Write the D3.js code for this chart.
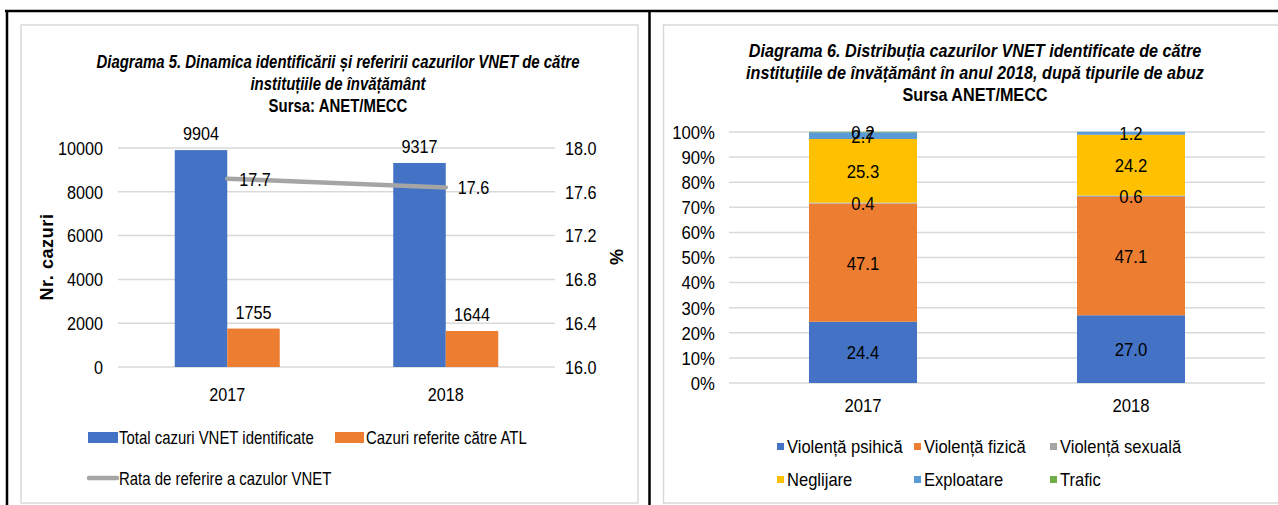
<!DOCTYPE html>
<html><head><meta charset="utf-8">
<script src="https://cdn.jsdelivr.net/npm/d3@7"></script>
<style>
body{margin:0;background:#fff;}
svg{display:block;}
text{font-family:"Liberation Sans Narrow","Arial Narrow","Liberation Sans",Arial,sans-serif;fill:#000;}
</style></head><body>
<svg id="c" width="1278" height="505"></svg>
<script>
// ---- Chart 5 data ----
const years = ["2017", "2018"];
const totalCases = [9904, 9317];
const referredCases = [1755, 1644];
const referralRate = [17.72, 17.64];
const leftTicks = [0, 2000, 4000, 6000, 8000, 10000];
const rightTicks = [16.0, 16.4, 16.8, 17.2, 17.6, 18.0];
const title5 = ["Diagrama 5. Dinamica identificării și referirii cazurilor VNET de către", "instituțiile de învățământ"];
const source5 = "Sursa: ANET/MECC";

// ---- Chart 6 data ----
const abuseTypes = ["Violență psihică", "Violență fizică", "Violență sexuală", "Neglijare", "Exploatare", "Trafic"];
const share2017 = [24.4, 47.1, 0.4, 25.3, 2.7, 0.2];
const share2018 = [27.0, 47.1, 0.6, 24.2, 1.2, 0];
const pctTicks = [0, 10, 20, 30, 40, 50, 60, 70, 80, 90, 100];
const title6 = ["Diagrama 6. Distribuția cazurilor VNET identificate de către", "instituțiile de învățământ în anul 2018, după tipurile de abuz"];
const source6 = "Sursa ANET/MECC";

const colors6 = ["#4472C4", "#ED7D31", "#A5A5A5", "#FFC000", "#5B9BD5", "#70AD47"];

const svg = d3.select("#c");

// horizontal condensing of text (imitates a narrow font)
function squeeze(sel, k) {
  sel.each(function(){
    const t = d3.select(this);
    let x = parseFloat(t.attr("x"));
    if (isNaN(x)) { const ts = t.select("tspan"); x = ts.empty() ? 0 : (parseFloat(ts.attr("x")) || 0); }
    t.attr("transform", `translate(${x*(1-k)},0) scale(${k},1)`);
  });
}

// frames
svg.append("rect").attr("x",21).attr("y",25).attr("width",617).attr("height",478).attr("fill","none").attr("stroke","#D9D9D9").attr("stroke-width",1.5);
svg.append("rect").attr("x",663.5).attr("y",25).attr("width",640).attr("height",478).attr("fill","none").attr("stroke","#D9D9D9").attr("stroke-width",1.5);
// black borders
svg.append("line").attr("x1",5).attr("x2",1278).attr("y1",11).attr("y2",11).attr("stroke","#000").attr("stroke-width",2.5);
svg.append("line").attr("x1",7).attr("x2",7).attr("y1",10).attr("y2",505).attr("stroke","#000").attr("stroke-width",2.5);
svg.append("line").attr("x1",649.5).attr("x2",649.5).attr("y1",10).attr("y2",505).attr("stroke","#000").attr("stroke-width",2.5);

// ================= Chart 5 =================
{
  const g = svg.append("g");
  const x = d3.scaleBand().domain(years).range([118, 555]);
  const y = d3.scaleLinear().domain([0, 10000]).range([367, 148]);
  const y2 = d3.scaleLinear().domain([16, 18]).range([367, 148]);

  // titles
  const tt = g.append("text").attr("text-anchor","middle").attr("font-size",18).attr("font-weight","bold").attr("font-style","italic");
  title5.forEach((t,i)=>tt.append("tspan").attr("x",338).attr("y",68+i*22).text(t));
  squeeze(tt, 0.83);
  const st = g.append("text").attr("x",338).attr("y",112).attr("text-anchor","middle").attr("font-size",18).attr("font-weight","bold").text(source5);
  squeeze(st, 0.83);

  // grid
  g.selectAll(".grid").data(leftTicks).join("line")
    .attr("x1",118).attr("x2",555).attr("y1",d=>y(d)).attr("y2",d=>y(d))
    .attr("stroke","#D9D9D9").attr("stroke-width",1.5);

  // left axis
  const ax = d3.axisLeft(y).tickValues(leftTicks).tickSize(0).tickPadding(0).tickFormat(d3.format("d"));
  const ag = g.append("g").attr("transform","translate(103,0)").call(ax);
  ag.select(".domain").remove();
  ag.selectAll("text").attr("font-size",18).attr("dy","0.35em").attr("font-family",null);
  squeeze(ag.selectAll("text"), 0.9);

  const ax2 = d3.axisRight(y2).tickValues(rightTicks).tickSize(0).tickPadding(0).tickFormat(d3.format(".1f"));
  const ag2 = g.append("g").attr("transform","translate(565,0)").call(ax2);
  ag2.select(".domain").remove();
  ag2.selectAll("text").attr("font-size",18).attr("dy","0.35em").attr("font-family",null);
  squeeze(ag2.selectAll("text"), 0.9);

  // axis titles
  g.append("text").attr("transform","translate(53,257) rotate(-90)").attr("text-anchor","middle").attr("font-size",18).attr("font-weight","bold").attr("letter-spacing","0.6").text("Nr. cazuri");
  g.append("text").attr("transform","translate(610,257) rotate(90)").attr("text-anchor","middle").attr("font-size",18).attr("font-weight","bold").text("%");

  // x labels
  const xa = d3.axisBottom(x).tickSize(0).tickPadding(0);
  const xg = g.append("g").attr("transform","translate(0,388)").call(xa);
  xg.select(".domain").remove();
  xg.selectAll("text").attr("font-size",18).attr("dy","0.71em").attr("font-family",null);
  squeeze(xg.selectAll("text"), 0.9);

  const bw = 52.5;
  // bars
  g.selectAll(".b1").data(years).join("rect")
    .attr("x",d=>x(d)+x.bandwidth()/2-bw).attr("width",bw)
    .attr("y",(d,i)=>y(totalCases[i])).attr("height",(d,i)=>y(0)-y(totalCases[i]))
    .attr("fill","#4472C4");
  g.selectAll(".b2").data(years).join("rect")
    .attr("x",d=>x(d)+x.bandwidth()/2).attr("width",bw)
    .attr("y",(d,i)=>y(referredCases[i])).attr("height",(d,i)=>y(0)-y(referredCases[i]))
    .attr("fill","#ED7D31");
  // bar labels
  const l1 = g.selectAll(".l1").data(years).join("text")
    .attr("x",d=>x(d)+x.bandwidth()/2-bw/2).attr("y",(d,i)=>y(totalCases[i])-10)
    .attr("text-anchor","middle").attr("font-size",18).text((d,i)=>totalCases[i]);
  const l2 = g.selectAll(".l2").data(years).join("text")
    .attr("x",d=>x(d)+x.bandwidth()/2+bw/2).attr("y",(d,i)=>y(referredCases[i])-10)
    .attr("text-anchor","middle").attr("font-size",18).text((d,i)=>referredCases[i]);
  squeeze(l1, 0.9); squeeze(l2, 0.9);

  // line
  const line = d3.line().x((d,i)=>x(years[i])+x.bandwidth()/2).y(d=>y2(d));
  g.append("path").attr("d",line(referralRate)).attr("fill","none").attr("stroke","#A5A5A5").attr("stroke-width",4.5).attr("stroke-linecap","round");
  const l3 = g.selectAll(".l3").data(referralRate).join("text")
    .attr("x",(d,i)=>x(years[i])+x.bandwidth()/2+12).attr("y",d=>y2(d)+7)
    .attr("font-size",18).text(d=>d3.format(".1f")(d));
  squeeze(l3, 0.9);

  // legend
  const lg = g.append("g");
  lg.append("rect").attr("x",88).attr("y",432).attr("width",30).attr("height",11).attr("fill","#4472C4");
  lg.append("text").attr("x",119).attr("y",444).attr("font-size",18).text("Total cazuri VNET identificate");
  lg.append("rect").attr("x",335).attr("y",432).attr("width",29).attr("height",11).attr("fill","#ED7D31");
  lg.append("text").attr("x",366).attr("y",444).attr("font-size",18).text("Cazuri referite către ATL");
  lg.append("line").attr("x1",89).attr("x2",117).attr("y1",478).attr("y2",478).attr("stroke","#A5A5A5").attr("stroke-width",4.5).attr("stroke-linecap","round");
  lg.append("text").attr("x",119).attr("y",485).attr("font-size",18).text("Rata de referire a cazulor VNET");
  squeeze(lg.selectAll("text"), 0.83);
}

// ================= Chart 6 =================
{
  const g = svg.append("g");
  const x = d3.scaleBand().domain(years).range([729, 1265]);
  const y = d3.scaleLinear().domain([0, 100]).range([383, 132]);

  const tt = g.append("text").attr("text-anchor","middle").attr("font-size",18).attr("font-weight","bold").attr("font-style","italic");
  title6.forEach((t,i)=>tt.append("tspan").attr("x",975).attr("y",57+i*22).text(t));
  squeeze(tt, 0.9);
  const st = g.append("text").attr("x",975).attr("y",101).attr("text-anchor","middle").attr("font-size",18).attr("font-weight","bold").text(source6);
  squeeze(st, 0.9);

  g.selectAll(".grid").data(pctTicks).join("line")
    .attr("x1",729).attr("x2",1265).attr("y1",d=>y(d)).attr("y2",d=>y(d))
    .attr("stroke","#D9D9D9").attr("stroke-width",1.5);

  const ax = d3.axisLeft(y).tickValues(pctTicks).tickSize(0).tickPadding(0).tickFormat(d=>d+"%");
  const ag = g.append("g").attr("transform","translate(715,0)").call(ax);
  ag.select(".domain").remove();
  ag.selectAll("text").attr("font-size",18).attr("dy","0.35em").attr("font-family",null);
  squeeze(ag.selectAll("text"), 0.93);

  const xa = d3.axisBottom(x).tickSize(0).tickPadding(0);
  const xg = g.append("g").attr("transform","translate(0,399)").call(xa);
  xg.select(".domain").remove();
  xg.selectAll("text").attr("font-size",18).attr("dy","0.71em").attr("font-family",null);
  squeeze(xg.selectAll("text"), 0.93);

  const rows = [share2017, share2018].map((arr,i)=>{
    const o = {year: years[i]}; abuseTypes.forEach((t,j)=>o[t]=arr[j]); return o;
  });
  const stack = d3.stack().keys(abuseTypes)(rows);
  const bw = 108;
  stack.forEach((layer,k)=>{
    g.selectAll(".s"+k).data(layer).join("rect")
      .attr("x",d=>x(d.data.year)+x.bandwidth()/2-bw/2).attr("width",bw)
      .attr("y",d=>y(d[1])).attr("height",d=>Math.max(0,y(d[0])-y(d[1])))
      .attr("fill",colors6[k]);
  });
  stack.forEach((layer,k)=>{
    const lt = g.selectAll(".t"+k).data(layer.filter(d=>d[1]-d[0]>0)).join("text")
      .attr("x",d=>x(d.data.year)+x.bandwidth()/2).attr("y",d=>(y(d[0])+y(d[1]))/2+7)
      .attr("text-anchor","middle").attr("font-size",18)
      .text(d=>d3.format(".1f")(d[1]-d[0]));
    squeeze(lt, 0.93);
  });

  // legend
  const cols = [777, 914, 1050];
  const rowsY = [447, 480];
  abuseTypes.forEach((t,i)=>{
    const cx = cols[i%3], cy = rowsY[Math.floor(i/3)];
    g.append("rect").attr("x",cx).attr("y",cy-4).attr("width",7).attr("height",7).attr("fill",colors6[i]);
    const lt = g.append("text").attr("x",cx+10).attr("y",cy+6).attr("font-size",18).text(t);
    squeeze(lt, 0.92);
  });
}
</script>
</body></html>
